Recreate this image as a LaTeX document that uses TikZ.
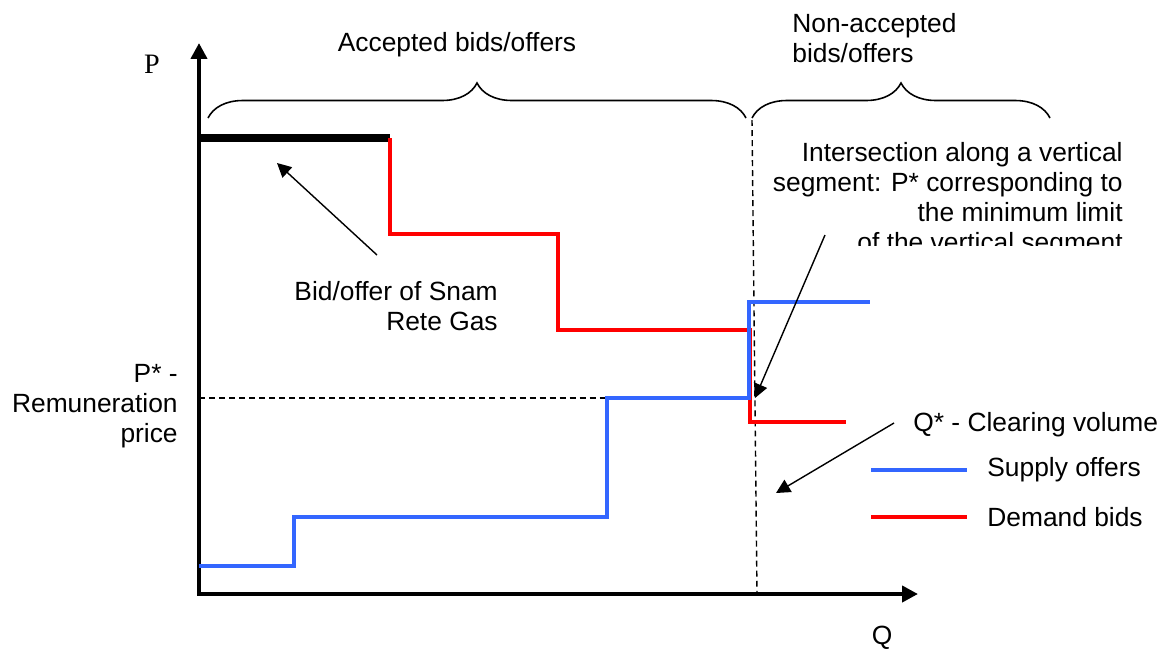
\documentclass[tikz,border=0pt]{standalone}
\usepackage{fontspec}
\setmainfont{Liberation Sans}
\newfontfamily\serifrm{Liberation Serif}
\usepackage{tikz}
\usetikzlibrary{arrows.meta,decorations.pathreplacing}
\definecolor{supplyblue}{RGB}{51,102,255}
\tikzset{
  font={\fontsize{15pt}{17pt}\selectfont},
  axis/.style={line width=2.8pt,{Triangle[length=9pt,width=9pt]}-{Triangle[length=9pt,width=9pt]}},
  pointer/.style={line width=0.8pt,-{Triangle[length=8pt,width=8pt]}},
  guide/.style={line width=0.8pt,dash pattern=on 3.4pt off 2.3pt},
  supply/.style={line width=2.6pt,supplyblue},
  demand/.style={line width=2.6pt,red},
  bracket/.style={line width=0.9pt,decorate,decoration={brace,amplitude=0.7cm}}}

\begin{document}
\begin{tikzpicture}[x=0.2mm,y=0.2mm]
\tikzstyle{every node}+=[inner sep=0pt]
\useasboundingbox (0,0) rectangle (1165,-650);
\draw [axis] (199,-43) -- (199,-594) -- (918,-594);
\node (plabel) at (152,-64) {\serifrm\fontsize{16pt}{17pt}\selectfont P};
\node (qlabel) at (882,-638) {Q};
\draw [guide] (199,-398) -- (607,-398);
\draw [guide] (752,-120) -- (757,-594);
\draw [line width=4pt] (199,-138) -- (390,-138);
\draw [demand] (390,-138) -- (390,-234) -- (558,-234) -- (558,-330) -- (750,-330) -- (750,-422) -- (846,-422);
\draw [supply] (199,-566) -- (294,-566) -- (294,-517) -- (607,-517) -- (607,-398) -- (749,-398) -- (749,-302) -- (870,-302);
\draw [bracket] (208,-118) -- (746,-118);
\draw [bracket] (752,-118) -- (1050,-118);
\node (accepted) at (457,-45) {Accepted bids/offers};
\node (rejected) [anchor=north west,align=left] at (792,-13) {Non-accepted\\bids/offers};
\node (pstar) [anchor=north east,align=right] at (178,-364) {P* -\\Remuneration\\price};
\node (snam) [anchor=north east,align=right] at (498,-281) {Bid/offer of Snam\\Rete Gas};
\begin{scope}
\clip (770,-130) rectangle (1150,-245);
\node (cross) [anchor=north east,align=right] at (1123,-142) {Intersection along a vertical\\segment: P* corresponding to\\the minimum limit\\of the vertical segment};
\end{scope}
\node (qstar) [anchor=west] at (913,-425) {Q* - Clearing volume};
\coordinate (snamtail) at (377,-255);
\coordinate (snamhead) at (277,-163);
\coordinate (crosstail) at (825,-235);
\coordinate (crosshead) at (755,-398);
\coordinate (qtail) at (894,-423);
\coordinate (qhead) at (776,-493);
\draw [pointer] (snamtail) -- (snamhead);
\draw [pointer] (crosstail) -- (crosshead);
\draw [pointer] (qtail) -- (qhead);
\draw [supply] (871,-470) -- (967,-470);
\node (supplykey) [anchor=west] at (987,-470) {Supply offers};
\draw [demand] (871,-517) -- (967,-517);
\node (demandkey) [anchor=west] at (987,-517) {Demand bids};
\end{tikzpicture}
\end{document}
